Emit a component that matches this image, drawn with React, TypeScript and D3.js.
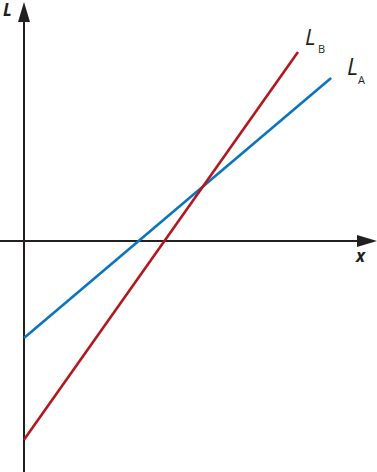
import React from "react";
import * as d3 from "d3";

const W = 377;
const H = 472;

// Line A and Line B (x, L) endpoints in data units
const lineAX = [0, 10.47];
const lineAL = [-3.3, 5.55];
const lineBX = [0, 9.34];
const lineBL = [-6.77, 6.43];

const xDomain = [0, 12];
const yDomain = [-8, 8];

export default function App() {
  const x = d3.scaleLinear().domain(xDomain).range([24, 376]);
  const y = d3.scaleLinear().domain(yDomain).range([476, 6]);
  const line = d3
    .line<[number, number]>()
    .x((d) => x(d[0]))
    .y((d) => y(d[1]));
  const a: [number, number][] = lineAX.map((v, i) => [v, lineAL[i]]);
  const b: [number, number][] = lineBX.map((v, i) => [v, lineBL[i]]);
  const x0 = x(0);
  const y0 = y(0);
  const axisColor = "#231f20";
  const font = "'Open Sans', 'Liberation Sans', sans-serif";
  return (
    <svg
      width={W}
      height={H}
      style={{ position: "absolute", left: 0, top: 0, background: "#fff" }}
    >
      {/* axes */}
      <line x1={x0} y1={472} x2={x0} y2={20} stroke={axisColor} strokeWidth={2} />
      <line x1={0} y1={y0} x2={360} y2={y0} stroke={axisColor} strokeWidth={2} />
      <path d={`M${x0},2 L${x0 - 6},22 L${x0 + 6},22 Z`} fill={axisColor} />
      <path d={`M377,${y0} L357,${y0 - 6} L357,${y0 + 6} Z`} fill={axisColor} />
      {/* lines */}
      <path d={line(a) || ""} fill="none" stroke="#0a74bd" strokeWidth={2.6} />
      <path d={line(b) || ""} fill="none" stroke="#b3171e" strokeWidth={2.6} />
      {/* labels */}
      <text x={3} y={16} fontFamily={font} fontSize={17} fontWeight="bold" fontStyle="italic" fill={axisColor}>
        L
      </text>
      <text x={356} y={262} fontFamily={font} fontSize={17} fontWeight="bold" fontStyle="italic" fill={axisColor}>
        x
      </text>
      <text x={305} y={45} fontFamily={font} fontSize={22} fontStyle="italic" fill={axisColor}>
        L
      </text>
      <text x={318} y={53} fontFamily={font} fontSize={11} fill={axisColor}>
        B
      </text>
      <text x={347} y={75} fontFamily={font} fontSize={23} fontStyle="italic" fill={axisColor}>
        L
      </text>
      <text x={358} y={84} fontFamily={font} fontSize={11} fill={axisColor}>
        A
      </text>
    </svg>
  );
}
